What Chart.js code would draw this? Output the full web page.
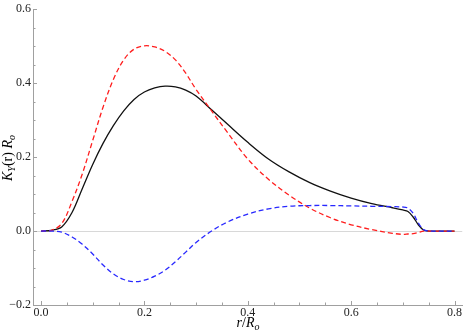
<!DOCTYPE html>
<html lang="en">
<head>
    <meta charset="UTF-8">
    <title>K_Y(r) R_o</title>
    <script src="https://cdn.jsdelivr.net/npm/chart.js"></script>
    <style>
        body {
            margin: 0;
            background: #fff;
        }
        #wrap {
            width: 463px;
            height: 332px;
        }
    </style>
</head>
<body>
    <div id="wrap">
        <canvas id="kChart" width="463" height="332"></canvas>
    </div>

    <script>
        // radius r/R_o
        const rValues = [0, 0.02, 0.04, 0.06, 0.08, 0.10, 0.12, 0.14, 0.16, 0.18, 0.20, 0.22, 0.24, 0.26, 0.28, 0.30,
            0.33, 0.36, 0.40, 0.44, 0.48, 0.52, 0.56, 0.60, 0.64, 0.68, 0.70, 0.71, 0.72, 0.73, 0.74, 0.75, 0.77, 0.80];
        // solid black curve
        const kTotal = [0, 0.002, 0.011, 0.05, 0.115, 0.18, 0.237, 0.285, 0.325, 0.356, 0.376, 0.387, 0.392, 0.390, 0.381, 0.365,
            0.328, 0.29, 0.24, 0.195, 0.16, 0.131, 0.108, 0.089, 0.074, 0.063, 0.057, 0.053, 0.038, 0.017, 0.003, 0, 0, 0];
        // red dashed curve
        const kRed = [0, 0.002, 0.02, 0.08, 0.155, 0.245, 0.335, 0.41, 0.463, 0.492, 0.501, 0.498, 0.486, 0.463, 0.427, 0.383,
            0.325, 0.268, 0.195, 0.14, 0.097, 0.062, 0.036, 0.017, 0.004, -0.006, -0.009, -0.008, -0.007, -0.004, 0, 0, 0, 0];
        // blue dashed curve
        const kBlue = [0, 0, -0.003, -0.016, -0.036, -0.062, -0.092, -0.116, -0.131, -0.137, -0.133, -0.122, -0.106, -0.083, -0.057, -0.031,
            0.0, 0.024, 0.046, 0.06, 0.067, 0.069, 0.069, 0.068, 0.067, 0.066, 0.065, 0.062, 0.048, 0.022, 0.004, 0, 0, 0];

        const xTickValues = [0, 0.05, 0.1, 0.15, 0.2, 0.25, 0.3, 0.35, 0.4, 0.45, 0.5, 0.55, 0.6, 0.65, 0.7, 0.75, 0.8];
        const yTickValues = [-0.2, -0.15, -0.1, -0.05, 0, 0.05, 0.1, 0.15, 0.2, 0.25, 0.3, 0.35, 0.4, 0.45, 0.5, 0.55, 0.6];

        const axisColor = '#a0a0a0';
        const serif = '"Liberation Serif", "DejaVu Serif", serif';

        function toPoints(vals) {
            return rValues.map((r, i) => ({ x: r, y: vals[i] }));
        }

        function isMajor(v) {
            return Math.abs(v * 5 - Math.round(v * 5)) < 1e-6;
        }

        function fmt(v) {
            const s = Math.abs(v).toFixed(1);
            return v < -1e-9 ? '\u2212' + s : s;
        }

        // draws a run of text pieces (for subscripts) starting at x, baseline y
        function drawRun(ctx, parts, x, y) {
            parts.forEach(p => {
                ctx.font = p.f;
                ctx.fillText(p.t, x, y + p.dy);
                x += ctx.measureText(p.t).width;
            });
        }

        function runWidth(ctx, parts) {
            let w = 0;
            parts.forEach(p => { ctx.font = p.f; w += ctx.measureText(p.t).width; });
            return w;
        }

        // inward tick marks plus the axis titles with subscripts
        const framePlugin = {
            id: 'frame',
            afterDraw(chart) {
                const ctx = chart.ctx;
                const area = chart.chartArea;
                const xs = chart.scales.x;
                const ys = chart.scales.y;
                ctx.save();
                ctx.strokeStyle = axisColor;
                ctx.lineWidth = 1;
                ctx.beginPath();
                xTickValues.forEach(v => {
                    const px = Math.round(xs.getPixelForValue(v)) + 0.5;
                    const len = isMajor(v) ? 4 : 2.5;
                    ctx.moveTo(px, area.bottom);
                    ctx.lineTo(px, area.bottom - len);
                });
                yTickValues.forEach(v => {
                    const py = Math.round(ys.getPixelForValue(v)) + 0.5;
                    const len = isMajor(v) ? 4 : 2.5;
                    ctx.moveTo(area.left, py);
                    ctx.lineTo(area.left + len, py);
                });
                ctx.stroke();

                ctx.fillStyle = '#000';
                ctx.textBaseline = 'alphabetic';

                // x title: r/R_o
                const xParts = [
                    { t: 'r', f: 'italic 14px ' + serif, dy: 0 },
                    { t: '/', f: '14px ' + serif, dy: 0 },
                    { t: 'R', f: 'italic 14px ' + serif, dy: 0 },
                    { t: 'o', f: 'italic 10px ' + serif, dy: 3 }
                ];
                const xw = runWidth(ctx, xParts);
                drawRun(ctx, xParts, 248 - xw / 2, 327);

                // y title: K_Y(r) R_o
                const yParts = [
                    { t: 'K', f: 'italic 14px ' + serif, dy: 0 },
                    { t: 'Y', f: 'italic 10px ' + serif, dy: 3 },
                    { t: '(r) ', f: '14px ' + serif, dy: 0 },
                    { t: 'R', f: 'italic 14px ' + serif, dy: 0 },
                    { t: 'o', f: 'italic 10px ' + serif, dy: 3 }
                ];
                const yw = runWidth(ctx, yParts);
                ctx.translate(12, 158);
                ctx.rotate(-Math.PI / 2);
                drawRun(ctx, yParts, -yw / 2, 0);
                ctx.restore();
            }
        };

        const lineStyle = {
            borderWidth: 1.3,
            tension: 0.35,
            pointRadius: 0,
            fill: false
        };

        const ctx = document.getElementById('kChart').getContext('2d');
        new Chart(ctx, {
            type: 'line',
            data: {
                datasets: [
                    Object.assign({
                        label: 'blue',
                        data: toPoints(kBlue),
                        borderColor: 'rgb(40, 40, 255)',
                        borderDash: [5, 3]
                    }, lineStyle),
                    Object.assign({
                        label: 'red',
                        data: toPoints(kRed),
                        borderColor: 'rgb(255, 30, 30)',
                        borderDash: [5, 3]
                    }, lineStyle),
                    Object.assign({
                        label: 'total',
                        data: toPoints(kTotal),
                        borderColor: '#111'
                    }, lineStyle)
                ]
            },
            options: {
                responsive: false,
                animation: false,
                devicePixelRatio: 1,
                layout: { padding: { left: 0, top: 5, right: 0, bottom: 0 } },
                plugins: {
                    legend: { display: false },
                    tooltip: { enabled: false }
                },
                scales: {
                    x: {
                        type: 'linear',
                        min: -0.0155,
                        max: 0.815,
                        afterBuildTicks: (scale) => {
                            scale.ticks = xTickValues.map(v => ({ value: v }));
                        },
                        afterFit: (scale) => { scale.height = 27; },
                        ticks: {
                            autoSkip: false,
                            maxRotation: 0,
                            padding: 1,
                            color: '#222',
                            font: { family: serif, size: 12 },
                            callback: (v) => isMajor(v) ? fmt(v) : ''
                        },
                        grid: { display: false, drawTicks: false },
                        border: { color: axisColor, width: 1 }
                    },
                    y: {
                        type: 'linear',
                        min: -0.2,
                        max: 0.6,
                        afterBuildTicks: (scale) => {
                            scale.ticks = yTickValues.map(v => ({ value: v }));
                        },
                        afterFit: (scale) => { scale.width = 33; },
                        ticks: {
                            autoSkip: false,
                            padding: 2,
                            color: '#222',
                            font: { family: serif, size: 12 },
                            callback: (v) => isMajor(v) ? fmt(v) : ''
                        },
                        grid: {
                            drawTicks: false,
                            color: (c) => (c.tick && Math.abs(c.tick.value) < 1e-9) ? '#d8d8d8' : 'rgba(0,0,0,0)',
                            lineWidth: 1
                        },
                        border: { color: axisColor, width: 1 }
                    }
                }
            },
            plugins: [framePlugin]
        });
    </script>
</body>
</html>
